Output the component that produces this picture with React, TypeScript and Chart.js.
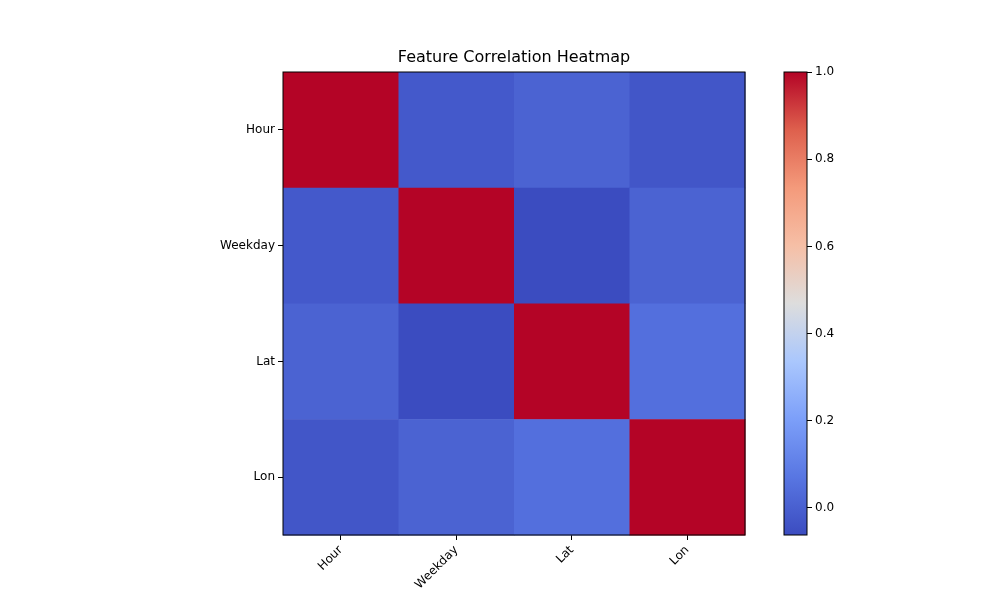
import React, { useEffect, useRef } from 'react';
import { Chart, registerables } from 'chart.js';

Chart.register(...registerables);

const features = ['Hour', 'Weekday', 'Lat', 'Lon'];
const corrHour = [1.0, -0.02, 0.01, -0.03];
const corrWeekday = [-0.02, 1.0, -0.062, 0.01];
const corrLat = [0.01, -0.062, 1.0, 0.05];
const corrLon = [-0.03, 0.01, 0.05, 1.0];
const matrix = [corrHour, corrWeekday, corrLat, corrLon];
const vMin = -0.062;
const vMax = 1.0;
const barTicks = [0, 0.2, 0.4, 0.6, 0.8, 1.0];

// coolwarm anchor colours
const cmap: [number, number[]][] = [
  [0, [59, 76, 192]],
  [0.125, [88, 118, 226]],
  [0.25, [124, 159, 249]],
  [0.375, [170, 199, 253]],
  [0.5, [221, 221, 221]],
  [0.625, [246, 191, 166]],
  [0.75, [244, 154, 123]],
  [0.875, [222, 96, 77]],
  [1, [180, 4, 38]],
];

function coolwarm(t: number): string {
  t = Math.max(0, Math.min(1, t));
  for (let i = 1; i < cmap.length; i++) {
    if (t <= cmap[i][0]) {
      const [t0, c0] = cmap[i - 1];
      const [t1, c1] = cmap[i];
      const f = (t - t0) / (t1 - t0);
      const c = c0.map((v, k) => Math.round(v + (c1[k] - v) * f));
      return `rgb(${c[0]},${c[1]},${c[2]})`;
    }
  }
  return 'rgb(180,4,38)';
}

const FONT = { family: 'DejaVu Sans', size: 12 };

const App: React.FC = () => {
  const heatRef = useRef<HTMLCanvasElement>(null);
  const barRef = useRef<HTMLCanvasElement>(null);

  useEffect(() => {
    const hctx = heatRef.current?.getContext('2d');
    const bctx = barRef.current?.getContext('2d');
    if (!hctx || !bctx) return;

    const heat = new Chart(hctx, {
      type: 'scatter',
      data: { labels: features, datasets: [] },
      options: {
        animation: false,
        responsive: false,
        layout: { padding: { left: 203, right: 255, top: 72, bottom: 0 } },
        plugins: { legend: { display: false }, tooltip: { enabled: false } },
        scales: {
          x: {
            type: 'category',
            labels: features,
            offset: true,
            afterFit: (s: any) => { s.height = 65; },
            grid: { offset: false, drawOnChartArea: false, color: '#000', tickLength: 5 },
            border: { display: false },
            ticks: { color: '#000', font: FONT, minRotation: 45, maxRotation: 45 },
          },
          y: {
            type: 'category',
            labels: features,
            offset: true,
            afterFit: (s: any) => { s.width = 80; },
            grid: { offset: false, drawOnChartArea: false, color: '#000', tickLength: 5 },
            border: { display: false },
            ticks: { color: '#000', font: FONT },
          },
        },
      },
      plugins: [{
        id: 'cells',
        beforeDatasetsDraw(chart: any) {
          const { ctx, scales, chartArea } = chart;
          const xs = scales.x, ys = scales.y;
          const hw = (xs.getPixelForValue(1) - xs.getPixelForValue(0)) / 2;
          const hh = (ys.getPixelForValue(1) - ys.getPixelForValue(0)) / 2;
          matrix.forEach((row, r) => row.forEach((v, c) => {
            const cx = xs.getPixelForValue(c), cy = ys.getPixelForValue(r);
            ctx.fillStyle = coolwarm((v - vMin) / (vMax - vMin));
            ctx.fillRect(cx - hw, cy - Math.abs(hh), hw * 2 + 0.5, Math.abs(hh) * 2 + 0.5);
          }));
          ctx.strokeStyle = '#000';
          ctx.lineWidth = 1;
          ctx.strokeRect(chartArea.left, chartArea.top, chartArea.right - chartArea.left, chartArea.bottom - chartArea.top);
          ctx.fillStyle = '#000';
          ctx.font = '16px "DejaVu Sans"';
          ctx.textAlign = 'center';
          ctx.textBaseline = 'middle';
          ctx.fillText('Feature Correlation Heatmap', (chartArea.left + chartArea.right) / 2, 58);
        },
      }],
    } as any);

    const bar = new Chart(bctx, {
      type: 'scatter',
      data: { datasets: [] },
      options: {
        animation: false,
        responsive: false,
        layout: { padding: { left: 784, right: 123, top: 72, bottom: 65 } },
        plugins: { legend: { display: false }, tooltip: { enabled: false } },
        scales: {
          x: { display: false, min: 0, max: 1 },
          y: {
            position: 'right',
            min: vMin,
            max: vMax,
            afterFit: (s: any) => { s.width = 70; },
            afterBuildTicks: (s: any) => { s.ticks = barTicks.map((v) => ({ value: v })); },
            grid: { drawOnChartArea: false, color: '#000', tickLength: 5 },
            border: { display: false },
            ticks: { color: '#000', font: FONT, callback: (v: any) => Number(v).toFixed(1) },
          },
        },
      },
      plugins: [{
        id: 'gradient',
        beforeDatasetsDraw(chart: any) {
          const { ctx, chartArea: a } = chart;
          const g = ctx.createLinearGradient(0, a.bottom, 0, a.top);
          cmap.forEach(([t]) => g.addColorStop(t, coolwarm(t)));
          ctx.fillStyle = g;
          ctx.fillRect(a.left, a.top, a.right - a.left, a.bottom - a.top);
          ctx.strokeStyle = '#000';
          ctx.lineWidth = 1;
          ctx.strokeRect(a.left, a.top, a.right - a.left, a.bottom - a.top);
        },
      }],
    } as any);

    return () => {
      heat.destroy();
      bar.destroy();
    };
  }, []);

  return (
    <div style={{ position: 'absolute', left: 0, top: 0, width: 1000, height: 600, background: '#fff' }}>
      <canvas ref={heatRef} width={1000} height={600} style={{ position: 'absolute', left: 0, top: 0 }} />
      <canvas ref={barRef} width={1000} height={600} style={{ position: 'absolute', left: 0, top: 0 }} />
    </div>
  );
};

export default App;
